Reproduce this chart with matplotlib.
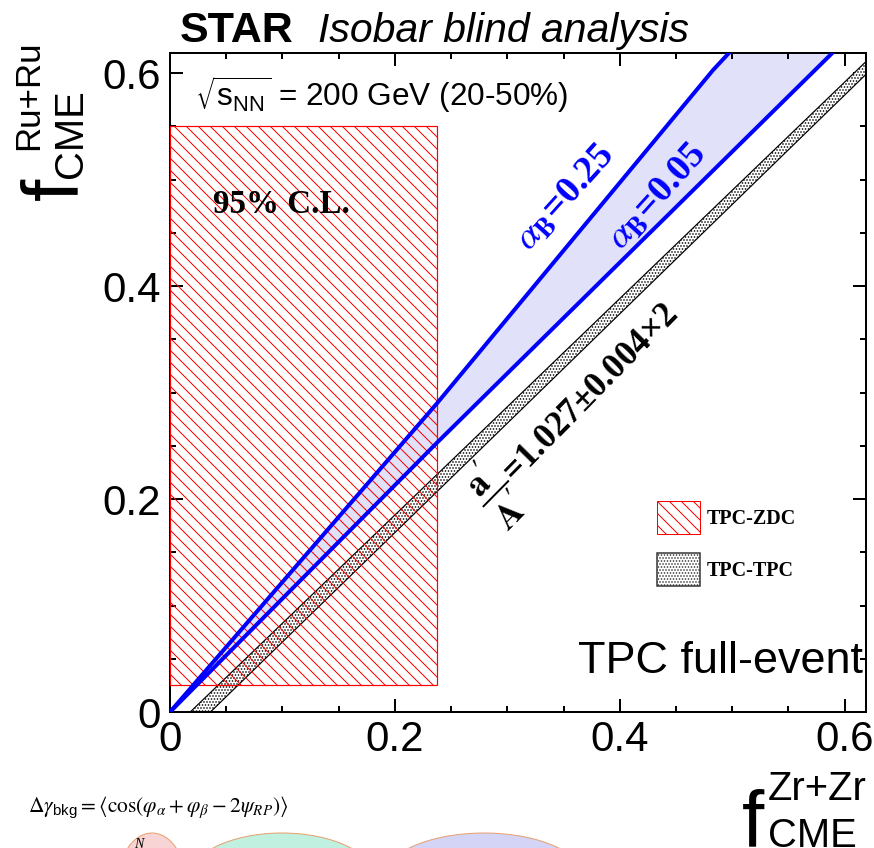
import matplotlib
matplotlib.use("Agg")
import matplotlib.pyplot as plt
from matplotlib.patches import Rectangle, Patch, Ellipse
from matplotlib.ticker import MultipleLocator

plt.rcParams['font.family'] = ['Liberation Sans', 'DejaVu Sans']
plt.rcParams['hatch.linewidth'] = 1.0

# alpha_B expectation lines
upper_x = [0.0, 0.2375, 0.483, 0.498]   # alpha_B = 0.25
upper_y = [0.0, 0.290, 0.603, 0.620]
lower_x = [0.0, 0.2375, 0.590]          # alpha_B = 0.05
lower_y = [0.0, 0.253, 0.620]

# TPC-TPC band, a'/A' = 1.027 +- 0.004 x 2
tpc_hi_x = [0.018, 0.620]
tpc_hi_y = [0.0, 0.612]
tpc_lo_x = [0.036, 0.620]
tpc_lo_y = [0.0, 0.600]

# TPC-ZDC 95% C.L. region
zdc_x = [0.0, 0.2375]
zdc_y = [0.025, 0.550]

ticks = [0, 0.2, 0.4, 0.6]
tick_labels = ['0', '0.2', '0.4', '0.6']
legend_labels = ['TPC-ZDC', 'TPC-TPC']

W, H = 874, 848
fig = plt.figure(figsize=(W / 72, H / 72), dpi=72)
ax = fig.add_axes([170 / W, 1 - 712 / H, 696 / W, 659 / H])

# blue band between the two alpha_B lines
band_x = upper_x + lower_x[::-1]
band_y = upper_y + lower_y[::-1]
ax.fill(band_x, band_y, color='#e1e1fa', lw=0, zorder=1)

# black dotted TPC-TPC band
tpc_x = tpc_hi_x + tpc_lo_x[::-1]
tpc_y = tpc_hi_y + tpc_lo_y[::-1]
ax.fill(tpc_x, tpc_y, facecolor='white', edgecolor='black', hatch='....', lw=1.2, zorder=2)

# red hatched TPC-ZDC box
ax.add_patch(Rectangle((zdc_x[0], zdc_y[0]), zdc_x[1] - zdc_x[0], zdc_y[1] - zdc_y[0],
                       facecolor='none', edgecolor='red', hatch='\\\\', lw=1.2, zorder=3))

ax.plot(upper_x, upper_y, color='blue', lw=4, zorder=4, solid_capstyle='butt')
ax.plot(lower_x, lower_y, color='blue', lw=4, zorder=4, solid_capstyle='butt')

ax.set_xlim(0, 0.619)
ax.set_ylim(0, 0.619)
ax.set_xticks(ticks)
ax.set_xticklabels(tick_labels)
ax.set_yticks(ticks)
ax.set_yticklabels(tick_labels)
ax.xaxis.set_minor_locator(MultipleLocator(0.05))
ax.yaxis.set_minor_locator(MultipleLocator(0.05))
ax.tick_params(which='both', direction='in', top=True, right=True, width=2, labelsize=42)
ax.tick_params(which='major', length=13)
ax.tick_params(which='minor', length=6)
ax.tick_params(axis='x', pad=8)
ax.tick_params(axis='y', pad=9)
for s in ax.spines.values():
    s.set_linewidth(2)

serif = ['Liberation Serif', 'DejaVu Serif']
ax.text(0.038, 0.4765, '95% C.L.', family=serif, weight='bold', fontsize=33, va='center')
ax.text(0.022, 0.58, r'$\sqrt{\mathregular{s}_{\mathregular{NN}}}$ = 200 GeV (20-50%)',
        fontsize=31.5, va='center')
ax.text(0.616, 0.047, 'TPC full-event', fontsize=45, ha='right', va='center')

ax.text(0.352, 0.483, r'$\alpha_{\mathbf{B}}$=0.25', color='blue', fontsize=38,
        family=serif, weight='bold', rotation=48, ha='center', va='center',
        math_fontfamily='stix')
ax.text(0.434, 0.484, r'$\alpha_{\mathbf{B}}$=0.05', color='blue', fontsize=38,
        family=serif, weight='bold', rotation=48, ha='center', va='center',
        math_fontfamily='stix')
ax.text(0.363, 0.2855, r"$\mathbf{\dfrac{a'}{A'}}$=1.027±0.004×2",
        fontsize=35, family=serif, weight='bold', rotation=45.5, ha='center', va='center',
        math_fontfamily='stix')

handles = [Patch(facecolor='white', edgecolor='red', hatch='\\\\', lw=1),
           Patch(facecolor='white', edgecolor='#333333', hatch='....', lw=1.5)]
ax.legend(handles, legend_labels, loc='upper left', bbox_to_anchor=(0.6997, 0.3202),
          frameon=False, prop=dict(family=serif, weight='bold', size=20),
          handlelength=2.15, handleheight=2.15, labelspacing=0.95, handletextpad=0.35,
          borderaxespad=0, borderpad=0)

# title
fig.text(180 / W, 1 - 42 / H, 'STAR', fontsize=43, weight='bold', va='baseline')
fig.text(318 / W, 1 - 42 / H, 'Isobar blind analysis', fontsize=41, style='italic', va='baseline')

# axis titles
fig.text(742 / W, 1 - 846 / H, 'f', fontsize=80, va='baseline')
fig.text(768 / W, 1 - 800 / H, 'Zr+Zr', fontsize=40, va='baseline')
fig.text(768 / W, 1 - 847 / H, 'CME', fontsize=40, va='baseline')

fig.text(94 / W, 1 - 200 / H, 'f', fontsize=80, rotation=90, ha='right', va='bottom')
fig.text(45 / W, 1 - 150 / H, 'Ru+Ru', fontsize=35, rotation=90, ha='right', va='bottom')
fig.text(90 / W, 1 - 178 / H, 'CME', fontsize=40, rotation=90, ha='right', va='bottom')

# cropped piece of the neighbouring figure at the bottom left
fig.text(28 / W, 1 - 812 / H,
         r'$\Delta\gamma_{\mathregular{bkg}} = \left\langle\cos(\varphi_\alpha+\varphi_\beta-2\psi_{RP})\right\rangle$',
         fontsize=21.5, math_fontfamily='stix', va='baseline')
for cx, w, col in [(152, 66, '#f8d4d4'), (282, 188, '#bff0e0'), (484, 204, '#d4d4f6')]:
    fig.add_artist(Ellipse((cx / W, 1 - 880 / H), w / W, 94 / H, transform=fig.transFigure,
                           facecolor=col, edgecolor='#e8a070', lw=1))
fig.text(134 / W, 1 - 848 / H, 'N', fontsize=14, family=serif, style='italic', va='baseline')

fig.savefig('out.png', dpi=72)
